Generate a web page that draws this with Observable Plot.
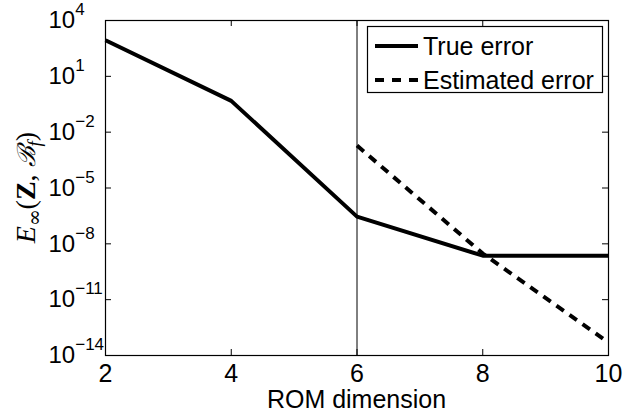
<!DOCTYPE html>
<html>
<head>
<meta charset="utf-8">
<script src="https://cdn.jsdelivr.net/npm/d3@7"></script>
<script src="https://cdn.jsdelivr.net/npm/@observablehq/plot@0.6"></script>
<style>
  html, body { margin: 0; padding: 0; background: white; }
  svg { display: block; }
</style>
</head>
<body>
<div id="chart"></div>
<script>
// ---- data ----
const romDims = [2, 4, 6, 8, 10];
const trueError = [8.7e2, 4.8e-1, 2.9e-7, 2.3e-9, 2.3e-9];
const estDims = [6, 8, 10];
const estError = [1.9e-3, 3.0e-9, 5.0e-14];
const markerDims = [6];
const xTicks = [2, 4, 6, 8, 10];
const yTicks = [1e4, 1e1, 1e-2, 1e-5, 1e-8, 1e-11, 1e-14];
const yExponents = ["4", "1", "−2", "−5", "−8", "−11", "−14"];
const legendLabels = ["True error", "Estimated error"];
const xLabel = "ROM dimension";

const FONT = "'Liberation Sans', Arial, Helvetica, sans-serif";
const W = 642, H = 415, ML = 105, MR = 34, MT = 20, MB = 60;
const FW = W - ML - MR, FH = H - MT - MB, TICK = 6;

const trueRows = romDims.map((d, i) => ({dim: d, err: trueError[i]}));
const estRows = estDims.map((d, i) => ({dim: d, err: estError[i]}));

const chart = Plot.plot({
  width: W,
  height: H,
  marginLeft: ML,
  marginRight: MR,
  marginTop: MT,
  marginBottom: MB,
  style: {fontFamily: FONT, fontSize: "25px", color: "black", background: "white"},
  x: {domain: [2, 10]},
  y: {type: "log", domain: [1e-14, 1e4]},
  marks: [
    Plot.ruleX(markerDims, {x: d => d, stroke: "black", strokeWidth: 1}),
    Plot.line(trueRows, {x: "dim", y: "err", stroke: "black", strokeWidth: 4, strokeLinejoin: "miter", strokeLinecap: "butt"}),
    Plot.line(estRows, {x: "dim", y: "err", stroke: "black", strokeWidth: 4, strokeDasharray: "9,7", strokeLinejoin: "miter", strokeLinecap: "butt"}),
    // inward tick marks on all four sides
    Plot.tickX(xTicks, {x: d => d, stroke: "black", strokeWidth: 1, insetTop: FH - TICK}),
    Plot.tickX(xTicks, {x: d => d, stroke: "black", strokeWidth: 1, insetBottom: FH - TICK}),
    Plot.tickY(yTicks, {y: d => d, stroke: "black", strokeWidth: 1, insetRight: FW - TICK}),
    Plot.tickY(yTicks, {y: d => d, stroke: "black", strokeWidth: 1, insetLeft: FW - TICK}),
    // tick labels
    Plot.axisX(xTicks, {anchor: "bottom", tickSize: 0, tickPadding: 9, fontSize: 25, label: null, tickFormat: d => String(d)}),
    Plot.axisY(yTicks, {anchor: "left", tickSize: 0, tickPadding: 57, textAnchor: "start", fontSize: 24, label: null,
      tickFormat: d => "10^" + yExponents[yTicks.indexOf(d)]}),
    Plot.frame({stroke: "black", strokeWidth: 1.2})
  ]
});

document.getElementById("chart").appendChild(chart);
const svg = d3.select(chart);

// superscript exponents on y tick labels
svg.selectAll("text").each(function() {
  const t = this.textContent;
  if (t && t.startsWith("10^") && this.children.length === 0) {
    const exp = t.slice(3);
    const sel = d3.select(this);
    sel.text("");
    sel.append("tspan").text("10");
    sel.append("tspan").attr("dy", -13).attr("font-size", 17).text(exp);
  }
});

const xs = chart.scale("x");
const ys = chart.scale("y");
const xMid = (xs.range[0] + xs.range[1]) / 2;
const yMid = (ys.range[0] + ys.range[1]) / 2;

// x-axis label
svg.append("text")
  .attr("x", xMid).attr("y", 408)
  .attr("text-anchor", "middle")
  .attr("font-family", FONT).attr("font-size", 25)
  .attr("fill", "black")
  .text(xLabel);

// y-axis label: E_∞(Z, ℬ_f)
const yl = svg.append("text")
  .attr("transform", `translate(35,${yMid}) rotate(-90)`)
  .attr("text-anchor", "middle")
  .attr("font-family", "'Liberation Serif', 'DejaVu Serif', serif")
  .attr("font-size", 28)
  .attr("fill", "black");
yl.append("tspan").attr("font-style", "italic").text("E");
yl.append("tspan").attr("font-size", 20).attr("dy", 6).attr("font-family", "'DejaVu Serif', serif").text("∞");
yl.append("tspan").attr("dy", -6).text("(");
yl.append("tspan").attr("font-weight", "bold").text("Z");
yl.append("tspan").text(", ");
yl.append("tspan").attr("font-style", "italic").attr("font-family", "'DejaVu Serif', serif").attr("font-size", 25).text("ℬ");
yl.append("tspan").attr("font-size", 19).attr("font-style", "italic").attr("dy", 6).text("f");
yl.append("tspan").attr("dy", -6).text(")");

// legend
const lg = svg.append("g").attr("font-family", FONT).attr("font-size", 25).attr("text-anchor", "start");
lg.append("rect").attr("x", 367.5).attr("y", 26.5).attr("width", 235).attr("height", 66)
  .attr("fill", "white").attr("stroke", "black").attr("stroke-width", 1.2);
const rowsY = [46, 80];
const dashes = [null, "9,8"];
legendLabels.forEach((lab, i) => {
  const line = lg.append("line").attr("x1", 375).attr("x2", 418)
    .attr("y1", rowsY[i]).attr("y2", rowsY[i])
    .attr("stroke", "black").attr("stroke-width", 4);
  if (dashes[i]) line.attr("stroke-dasharray", dashes[i]);
  lg.append("text").attr("x", 423).attr("y", rowsY[i] + 8.8).attr("text-anchor", "start").attr("fill", "black").text(lab);
});
</script>
</body>
</html>
